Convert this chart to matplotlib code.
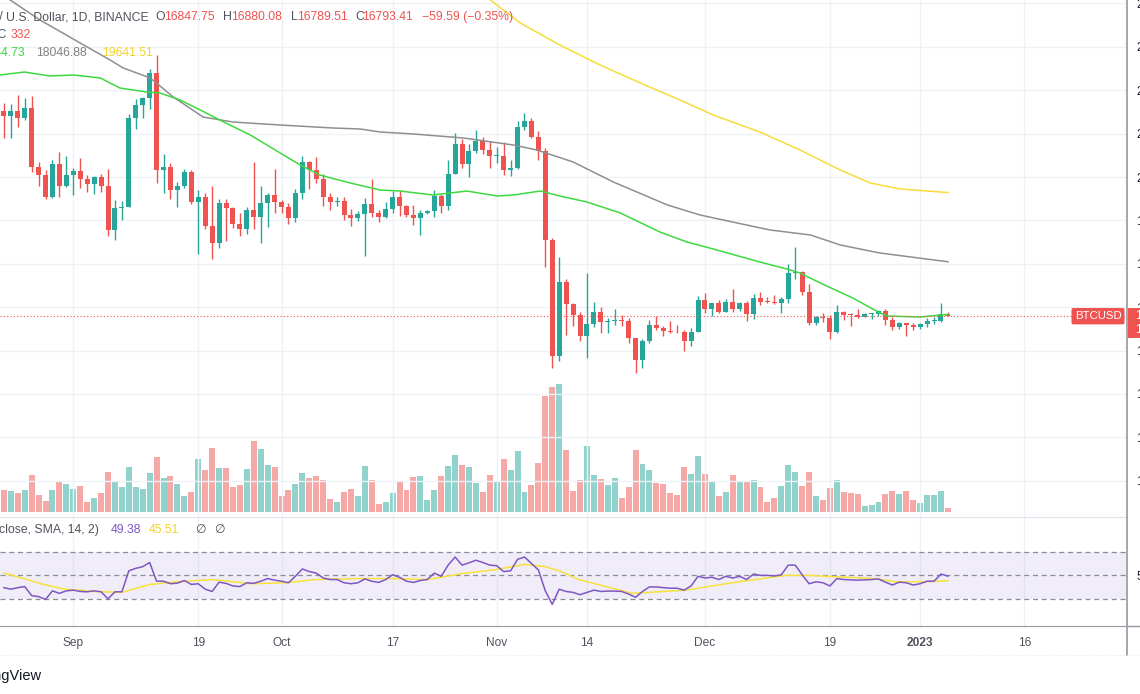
import matplotlib
matplotlib.use("Agg")
import matplotlib.pyplot as plt
import matplotlib.dates as mdates
import matplotlib.transforms as mtransforms
from matplotlib.lines import Line2D
from matplotlib.patches import Rectangle
import numpy as np
import pandas as pd

plt.rcParams['font.family'] = ['Liberation Sans', 'DejaVu Sans']

W, H = 1140, 694

START = '2022-08-22'

OPEN = [21515, 21400, 21530, 21370, 21600, 20240, 20040, 19550, 20290, 19800,
        20050, 20130, 19950, 19830, 20000, 19800, 18790, 19290, 19320, 21360,
        21650, 21830, 22400, 20170, 20230, 19700, 19800, 20110, 19420, 19540,
        18880, 18480, 19400, 19290, 18920, 18800, 19230, 19080, 19410, 19590,
        19420, 19310, 19060, 19630, 20340, 20160, 19960, 19530, 19420, 19440,
        19130, 19060, 19150, 19380, 19180, 19070, 19260, 19550, 19330, 19130,
        19050, 19170, 19210, 19570, 19330, 20080, 20770, 20290, 20600, 20820,
        20630, 20480, 20490, 20160, 20210, 21150, 21300, 20920, 20600, 18540,
        15880, 17590, 17070, 16810, 16330, 16620, 16900, 16660, 16690, 16700,
        16690, 16280, 15780, 16230, 16600, 16520, 16460, 16440, 16420, 16210,
        16440, 17170, 16970, 17090, 16890, 17110, 16970, 17090, 16840, 17220,
        17130, 17120, 17090, 17200, 17780, 17800, 17350, 16630, 16780, 16740,
        16440, 16900, 16830, 16820, 16780, 16840, 16850, 16920, 16700, 16550,
        16630, 16600, 16540, 16620, 16680, 16690, 16847.75]
HIGH = [21700, 21680, 21900, 21820, 21870, 20350, 20150, 20400, 20580, 20490,
        20200, 20440, 20050, 20020, 20060, 20180, 19460, 19450, 21450, 21800,
        21850, 22490, 22800, 20540, 20330, 19890, 20190, 20150, 19690, 19640,
        19800, 19490, 19500, 19310, 19180, 19310, 20340, 19790, 19640, 20190,
        19480, 19390, 19720, 20480, 20370, 20460, 20060, 19630, 19550, 19530,
        19260, 19220, 19510, 19950, 19230, 19420, 19680, 19700, 19360, 19350,
        19250, 19250, 19700, 19600, 20400, 21020, 20880, 20750, 21090, 20930,
        20840, 20700, 20800, 20390, 21300, 21480, 21370, 21070, 20670, 18590,
        18150, 17650, 17090, 16900, 17780, 17130, 17000, 16750, 16960, 16820,
        16750, 16300, 16270, 16700, 16800, 16560, 16690, 16600, 16480, 16530,
        17250, 17320, 17100, 17160, 17200, 17430, 17110, 17140, 17300, 17360,
        17230, 17270, 17240, 18000, 18390, 17840, 17530, 16800, 16860, 16820,
        17060, 16920, 16860, 16960, 16860, 16870, 16940, 16960, 16780, 16660,
        16640, 16630, 16630, 16760, 16770, 17090, 16880.08]
LOW = [20890, 20900, 21150, 21310, 20110, 19800, 19500, 19520, 19540, 19780,
       19580, 19750, 19650, 19600, 19650, 18650, 18540, 19020, 19300, 21110,
       21370, 21560, 19860, 19620, 19500, 19320, 19750, 19370, 18230, 18800,
       18120, 18360, 18530, 18820, 18630, 18680, 18810, 18470, 18840, 19160,
       19160, 18920, 18960, 19500, 19730, 19860, 19330, 19250, 19330, 19020,
       18860, 18980, 18190, 19070, 18970, 19060, 19160, 19100, 19070, 18900,
       18660, 19140, 19070, 19160, 19240, 20060, 20200, 20000, 20560, 20520,
       20210, 20330, 20050, 20030, 20180, 21080, 20900, 20390, 17930, 15590,
       15750, 16360, 16560, 16230, 15820, 16540, 16400, 16400, 16580, 16560,
       16180, 15480, 15600, 16170, 16480, 16330, 16400, 16400, 16000, 16100,
       16430, 16860, 16790, 16860, 16880, 16880, 16910, 16680, 16730, 17060,
       17090, 17070, 16870, 17090, 17650, 17270, 16580, 16580, 16660, 16260,
       16400, 16710, 16560, 16760, 16770, 16730, 16790, 16600, 16470, 16490,
       16330, 16470, 16500, 16550, 16610, 16660, 16789.51]
CLOSE = [21400, 21530, 21370, 21600, 20240, 20040, 19550, 20290, 19800, 20050,
         20130, 19950, 19830, 20000, 19800, 18790, 19290, 19320, 21360, 21650,
         21830, 22400, 20170, 20230, 19700, 19800, 20110, 19420, 19540, 18880,
         18480, 19400, 19290, 18920, 18800, 19230, 19080, 19410, 19590, 19420,
         19310, 19060, 19630, 20340, 20160, 19960, 19530, 19420, 19440, 19130,
         19060, 19150, 19380, 19180, 19070, 19260, 19550, 19330, 19130, 19050,
         19170, 19210, 19570, 19330, 20080, 20770, 20290, 20600, 20820, 20630,
         20480, 20490, 20160, 20210, 21150, 21300, 20920, 20600, 18540, 15880,
         17590, 17070, 16810, 16330, 16620, 16900, 16660, 16690, 16700, 16690,
         16280, 15780, 16230, 16600, 16520, 16460, 16440, 16420, 16210, 16440,
         17170, 16970, 17090, 16890, 17110, 16970, 17090, 16840, 17220, 17130,
         17120, 17090, 17200, 17780, 17800, 17350, 16630, 16780, 16740, 16440,
         16900, 16830, 16820, 16780, 16840, 16850, 16920, 16700, 16550, 16630,
         16600, 16540, 16620, 16680, 16690, 16850, 16793.41]
VOLUME = [21.7, 21.0, 19.3, 22.3, 37.3, 16.7, 10.7, 21.7, 30.7, 28.0,
          23.0, 26.0, 10.3, 13.7, 19.3, 40.3, 29.7, 25.0, 45.3, 25.0,
          22.7, 39.0, 55.0, 33.7, 35.7, 27.7, 15.7, 20.3, 53.3, 42.0,
          64.3, 44.0, 43.7, 24.7, 27.3, 43.3, 70.7, 63.3, 47.3, 44.7,
          16.0, 21.7, 28.3, 39.3, 34.3, 35.7, 31.7, 13.3, 10.3, 19.7,
          23.0, 16.0, 46.0, 32.0, 7.7, 10.3, 19.0, 30.0, 22.0, 34.7,
          35.7, 11.7, 21.7, 35.7, 46.0, 56.7, 47.0, 45.0, 29.0, 20.0,
          36.7, 30.3, 53.3, 41.7, 61.3, 20.0, 26.7, 49.3, 115.7, 125.0,
          127.7, 61.7, 21.0, 31.7, 65.7, 37.3, 33.3, 26.7, 33.7, 13.7,
          24.7, 61.7, 48.3, 42.3, 29.3, 27.7, 19.0, 17.3, 45.0, 38.3,
          56.3, 37.7, 30.7, 16.0, 20.3, 37.3, 29.7, 29.7, 32.3, 24.7,
          9.7, 13.7, 26.3, 47.3, 39.7, 26.3, 40.3, 16.3, 11.7, 24.3,
          32.3, 20.3, 19.3, 18.0, 6.0, 6.7, 9.7, 17.7, 21.3, 18.3,
          20.7, 11.7, 8.7, 17.3, 17.0, 20.7, 4.3]
RSI = [39.7, 38.4, 39.7, 40.6, 33.0, 32.2, 29.8, 37.0, 34.9, 37.0,
       37.6, 36.5, 36.2, 37.0, 36.2, 30.3, 36.2, 36.2, 53.8, 55.9,
       57.3, 60.8, 45.1, 45.1, 43.0, 43.5, 45.7, 42.4, 43.0, 38.4,
       36.5, 44.3, 43.3, 41.1, 40.6, 43.8, 43.3, 45.1, 47.3, 46.0,
       45.1, 43.8, 49.2, 55.4, 53.2, 51.9, 47.8, 46.5, 46.5, 43.8,
       43.0, 43.8, 47.0, 45.1, 44.1, 46.5, 50.5, 48.4, 45.1, 44.1,
       45.7, 46.5, 51.9, 49.2, 58.6, 65.4, 58.6, 60.5, 62.7, 60.8,
       58.6, 58.1, 53.2, 53.8, 63.5, 65.4, 60.0, 54.6, 37.0, 25.7,
       38.4, 36.5, 35.7, 33.8, 35.7, 37.6, 36.5, 36.8, 36.8, 36.5,
       34.3, 31.6, 36.5, 40.3, 40.3, 39.7, 39.2, 39.2, 37.6, 41.1,
       49.2, 47.8, 48.4, 46.5, 49.2, 47.8, 49.2, 46.5, 51.1, 50.0,
       50.0, 49.5, 50.5, 58.6, 58.6, 50.5, 43.0, 44.6, 43.8, 41.1,
       47.3, 46.5, 46.2, 46.0, 46.2, 46.5, 47.0, 44.3, 41.9, 44.3,
       43.8, 41.9, 43.0, 45.1, 45.1, 51.1, 49.4]

# RSI moving average, read at a few days (offset in days from START)
RSI_MA_DAY = [0, 2.6, 5.7, 8.8, 12.9, 17, 21, 25, 30, 35.6, 40.7, 44.8, 51, 56, 61,
              66.5, 70.6, 75, 78, 80.3, 82.8, 90.5, 98.2, 104.9, 112.6, 115.9,
              125.3, 128.6, 132.4, 136]
RSI_MA = [51.9, 47.8, 42.4, 38.4, 36.5, 35.7, 42.4, 44.6, 46.5, 43.0, 43.8, 46.5,
          47.3, 47.3, 46.5, 51.9, 54.6, 59.2, 57.3, 53.2, 46.5, 34.9, 37.6, 43.8,
          50.0, 50.0, 47.3, 44.6, 44.6, 45.5]

# price moving averages (offset in days from START)
MA50_DAY = [-0.6, 3.0, 6.6, 10.0, 13.9, 16.7, 20.6, 22.5, 25.4, 28.3, 31.1, 35.5,
            39.8, 42.7, 45.5, 49.9, 54.2, 57.1, 61.8, 66.7, 71.1, 73.4, 77.3, 80.1,
            84.0, 88.8, 94.5, 98.4, 102.2, 108.9, 112.8, 114.7, 117.6, 122.3,
            126.2, 127.3, 132.0, 136.0]
MA50 = [22350, 22419, 22327, 22350, 22281, 22051, 21958, 21935, 21774, 21544, 21313,
        20968, 20553, 20276, 20046, 19862, 19700, 19677, 19585, 19677, 19562, 19585,
        19677, 19562, 19424, 19171, 18733, 18502, 18341, 18042, 17880, 17788, 17558,
        17212, 16867, 16797, 16774, 16834.73]
MA100_DAY = [-0.6, 5.2, 11.0, 15.3, 17.2, 21.1, 24.4, 28.7, 33.0, 39.8, 47.4, 51.3,
             54.2, 59.0, 66.2, 73.4, 76.8, 82.0, 87.8, 95.6, 100.3, 109.0, 110.4,
             116.2, 120.5, 126.2, 136.0]
MA100 = [24240, 23617, 23087, 22696, 22511, 22281, 21843, 21382, 21267, 21198, 21129,
         21106, 21037, 20991, 20899, 20737, 20622, 20346, 19885, 19355, 19124, 18825,
         18779, 18664, 18433, 18249, 18046.88]
MA200_DAY = [68.6, 74.4, 80.1, 85.9, 91.7, 97.4, 102.2, 108.9, 114.7, 120.5, 124.8,
             129.1, 136.0]
MA200 = [24262, 23548, 23041, 22580, 22166, 21774, 21428, 21037, 20622, 20161, 19862,
         19724, 19641.51]

TICK_DATES = ['2022-09-01', '2022-09-19', '2022-10-01', '2022-10-17', '2022-11-01',
              '2022-11-14', '2022-12-01', '2022-12-19', '2023-01-01', '2023-01-16']
TICK_LABELS = ['Sep', '19', 'Oct', '17', 'Nov', '14', 'Dec', '19', '2023', '16']
PRICE_TICKS = list(range(13000, 24001, 1000))

UP, DOWN = '#26a69a', '#ef5350'
GRID = '#eef1f6'
TXT = '#4f525c'


def put(x, y, s, color, **kw):
    # header / footer text, positioned in pixels
    fig.text(x / W, 1 - y / H, s, color=color, va='center',
             fontsize=kw.pop('fontsize', 8.8), **kw)


fig = plt.figure(figsize=(W / 100, H / 100), dpi=100)
fig.patch.set_facecolor('white')

ax = fig.add_axes([0, 1 - 517 / H, 1127 / W, 517 / H])
rax = fig.add_axes([0, 1 - 626 / H, 1127 / W, 109 / H], sharex=ax)
vax = ax.twinx()

dates = pd.date_range(START, periods=len(OPEN), freq='D')
xd = mdates.date2num(dates)
x0 = xd[0]

o, h, l, c = map(np.array, (OPEN, HIGH, LOW, CLOSE))
up = c >= o
cols = np.where(up, UP, DOWN)

# volume overlay
vax.bar(xd, VOLUME, width=0.86, color=cols, alpha=0.5, linewidth=0)
vax.set_ylim(-5, 512)
vax.set_yticks([])
for s in vax.spines.values():
    s.set_visible(False)
ax.set_zorder(vax.get_zorder() + 1)
ax.patch.set_visible(False)

# candles
ax.vlines(xd, l, h, colors=cols, linewidth=1.0)
body = np.maximum(np.abs(c - o), 18)
ax.bar(xd, body, bottom=np.minimum(o, c), width=0.72, color=cols, linewidth=0)

# moving averages
ax.plot(x0 + np.array(MA200_DAY), MA200, color='#f7dc3c', lw=1.1)
ax.plot(x0 + np.array(MA100_DAY), MA100, color='#8f8f8f', lw=1.1)
ax.plot(x0 + np.array(MA50_DAY), MA50, color='#3fd93f', lw=1.1)

# last price line
ax.axhline(CLOSE[-1], color=DOWN, lw=0.8, ls=(0, (1, 2)))
ax.text(1098 / 1127, CLOSE[-1], 'BTCUSD',
        transform=mtransforms.blended_transform_factory(ax.transAxes, ax.transData),
        ha='center', va='center', color='white', fontsize=8.2,
        bbox=dict(boxstyle='round,pad=0.28,rounding_size=0.15', fc=DOWN, ec='none'))

ax.set_xlim(x0 - 0.56, x0 + 161.8)
ax.set_ylim(20000 - 340 / 0.0434, 20000 + 177 / 0.0434)
ax.set_yticks(PRICE_TICKS)
ax.set_yticklabels([f'{v:.2f}' for v in PRICE_TICKS])
ax.yaxis.tick_right()
ax.tick_params(axis='y', length=0, pad=6.5, labelsize=8.6, labelcolor='#131722')
ax.tick_params(axis='x', length=0, labelbottom=False)
tick_x = mdates.date2num(pd.to_datetime(TICK_DATES))
ax.set_xticks(tick_x)
ax.grid(True, color=GRID, lw=1.0)
ax.set_axisbelow(True)
for name, s in ax.spines.items():
    s.set_visible(name == 'bottom')
ax.spines['bottom'].set_color('#e0e3eb')

# RSI pane
rax.axhspan(30, 70, color='#7e57c2', alpha=0.1, lw=0)
for lvl in (70, 50, 30):
    rax.axhline(lvl, color='#8a8d96', lw=0.9, ls=(0, (4, 3)))
rax.plot(x0 + np.array(RSI_MA_DAY), RSI_MA, color='#f7e13a', lw=1.1)
rax.plot(xd, RSI, color='#7e57c2', lw=1.1)
rax.set_ylim(7.5, 99)
rax.set_yticks([50])
rax.set_yticklabels(['50.00'])
rax.yaxis.tick_right()
rax.tick_params(axis='y', length=0, pad=6.5, labelsize=8.6, labelcolor='#131722')
rax.set_xticks(tick_x)
rax.set_xticklabels(TICK_LABELS)
rax.tick_params(axis='x', length=0, pad=8.0, labelsize=8.6, labelcolor=TXT)
rax.get_xticklabels()[8].set_fontweight('bold')
rax.grid(True, axis='x', color=GRID, lw=1.0)
rax.set_axisbelow(True)
for name, s in rax.spines.items():
    s.set_visible(name == 'bottom')
rax.spines['bottom'].set_color('#9598a1')
rax.patch.set_visible(False)

# frame lines of the price scale and time scale
fig.add_artist(Line2D([1127 / W, 1127 / W], [1 - 655 / H, 1], color='#a3a6af', lw=1.4))
fig.add_artist(Line2D([0, 1], [1 - 655 / H, 1 - 655 / H], color='#eceef2', lw=0.8, ls=(0, (1, 1))))
fig.add_artist(Line2D([1127 / W, 1], [1 - 626 / H, 1 - 626 / H], color='#9598a1', lw=1.0))
fig.add_artist(Rectangle((1128 / W, 1 - 338 / H), 14 / W, 30 / H, color=DOWN, lw=0, zorder=5))
put(1135, 316, '16793.41', 'white', fontsize=8.5, zorder=6)
put(1135, 330, '10:47:23', 'white', fontsize=8.5, zorder=6)

# header
put(3, 17, 'Bitcoin /', TXT, ha='right')
put(6.4, 17, 'U.S. Dollar, 1D, BINANCE', TXT)
for letter, val, xl, xv in [('O', '16847.75', 155, 164), ('H', '16880.08', 223, 231),
                            ('L', '16789.51', 291, 297), ('C', '16793.41', 355, 362)]:
    put(xl, 17, letter, TXT)
    put(xv, 17, val, DOWN)
put(422, 17, '\u221259.59 (\u22120.35%)', DOWN)
put(6, 35, 'Vol \u00b7 BTC', TXT, ha='right')
put(11, 35, '332', DOWN)
put(25, 53, '16834.73', '#3cd63c', ha='right')
put(36, 53, '18046.88', '#808080')
put(102, 53, '19641.51', '#f2d22c')

put(-1, 530, 'close, SMA, 14, 2)', TXT)
put(111, 530, '49.38', '#7e57c2')
put(149, 530, '45.51', '#f2d22c')
put(195, 530, '\u2205', TXT)
put(214, 530, '\u2205', TXT)

put(42, 676, 'TradingView', '#131722', ha='right', fontsize=10.5)

fig.savefig('out.png', dpi=100, facecolor='white')
